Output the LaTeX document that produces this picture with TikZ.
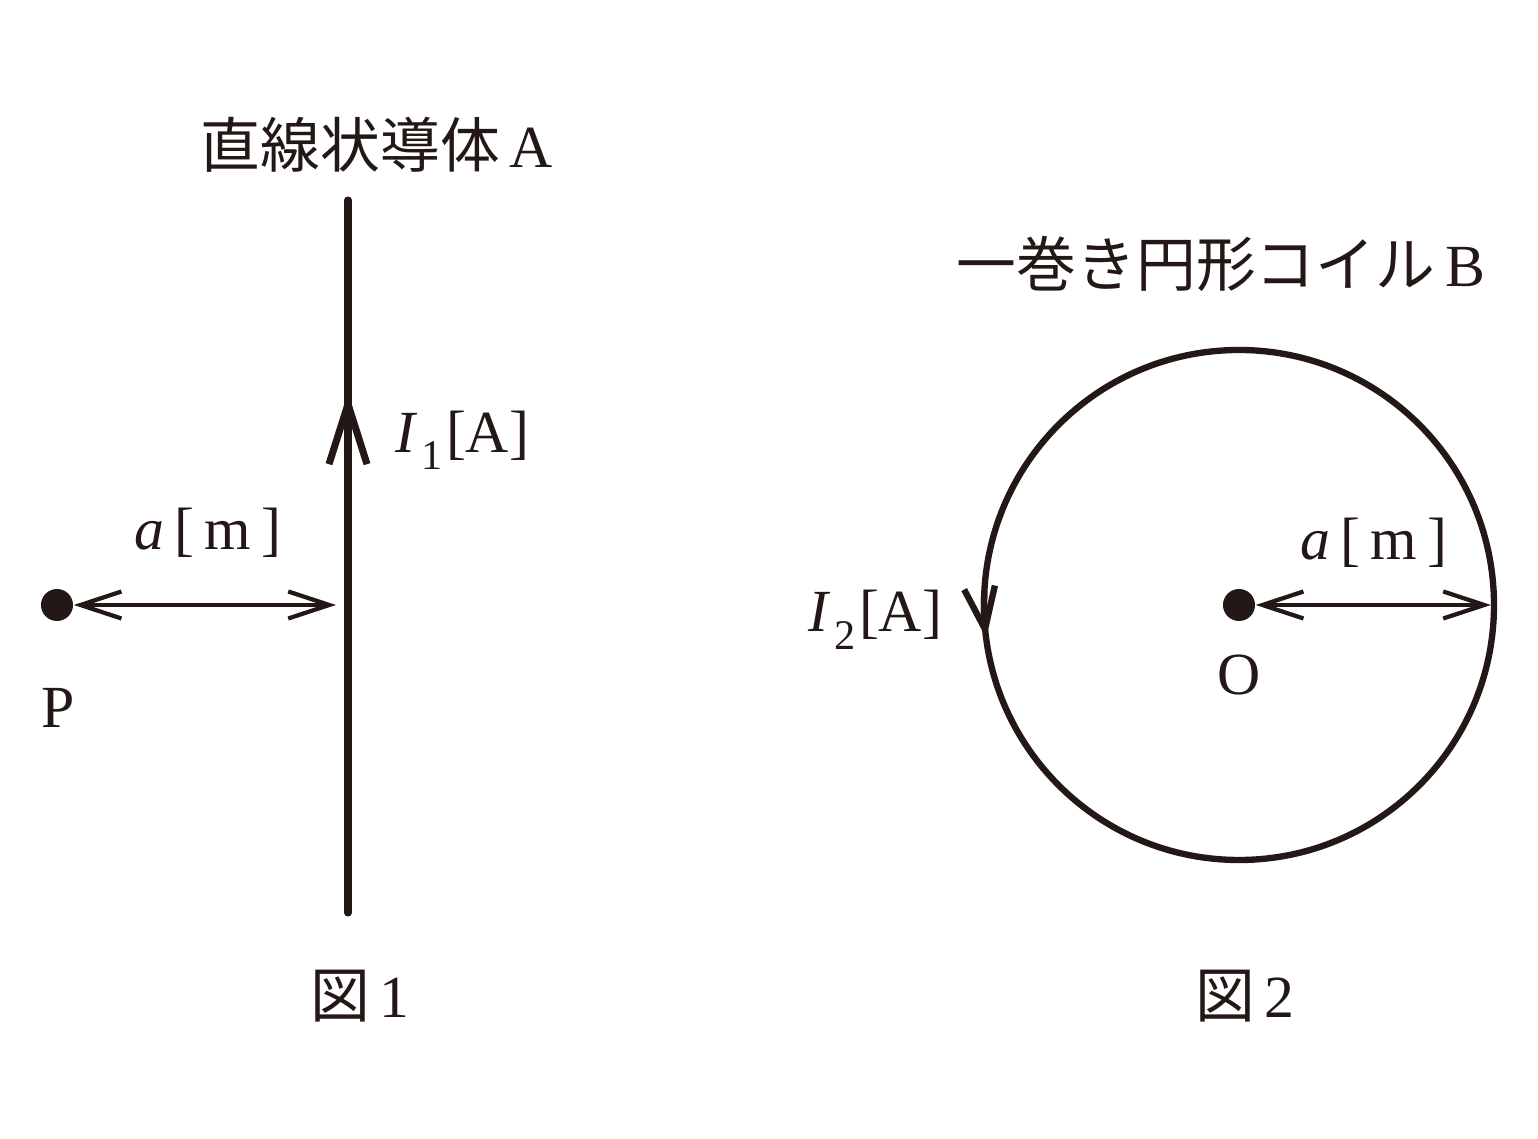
\documentclass[tikz,border=0pt]{standalone}
\usepackage{fontspec}
\setmainfont{Liberation Serif}
\newfontfamily\jpfont{Noto Sans CJK JP}
\usepackage{xcolor}
\usetikzlibrary{arrows.meta,positioning,calc,decorations.markings}
\definecolor{ink}{HTML}{231815}

\begin{document}
\begin{tikzpicture}[x=0.01cm,y=0.01cm, color=ink,
    wire/.style={line width=2pt, line cap=round},
    coil/.style={line width=1.8pt},
    gap/.style={line width=1.2pt, {Straight Barb[length=4.1mm,width=2.7mm]}-{Straight Barb[length=4.1mm,width=2.7mm]}},
    dotmark/.style={circle, fill=ink, inner sep=0pt, minimum size=3.2mm},
    lbl/.style={font=\fontsize{17}{20}\selectfont, inner sep=0pt}]
    \useasboundingbox (0,0) rectangle (1538,1139);

    % Fig. 1: straight conductor A
    \coordinate (Abot) at (348,226);
    \coordinate (Atop) at (348,939);
    \draw[wire, postaction={decorate}, decoration={markings,
        mark=at position 0.73 with {\arrow{Straight Barb[length=6mm,width=3.8mm]}}}]
        (Abot) -- (Atop);
    \node[lbl, anchor=base] (titleA) at (377,971) {{\jpfont 直線状導体}\,A};
    \node[lbl, anchor=base west] (I1) at (395,686)
        {\textit{I}\kern1pt\raisebox{-1.7mm}{\fontsize{12}{12}\selectfont 1}\kern1pt[A]};

    \node[dotmark] (P) at (57,534) {};
    \coordinate (wireP) at (336,534);
    \draw[gap] (P) -- (wireP);
    \node[lbl, anchor=base] (aP) at (208,589) {\textit{a}\,[\,m\,]};
    \node[lbl] (Plbl) at (58,431) {P};
    \node[lbl, anchor=base] (fig1) at (360,121) {{\jpfont 図}\,1};

    % Fig. 2: one-turn circular coil B
    \node[dotmark] (O) at (1239,534) {};
    \draw[coil] (O) circle[radius=255];
    \draw[coil, -{Straight Barb[length=4.2mm,width=3.1mm]}]
        (O) ++(177:255) arc[start angle=177, end angle=187.5, radius=255];
    \coordinate (rimO) at (1491,534);
    \draw[gap] (O) -- (rimO);
    \node[lbl, anchor=base] (aO) at (1374,579) {\textit{a}\,[\,m\,]};
    \node[lbl] (Olbl) at (1239,464) {O};
    \node[lbl, anchor=base west] (I2) at (808,507)
        {\textit{I}\kern1pt\raisebox{-1.7mm}{\fontsize{12}{12}\selectfont 2}\kern1pt[A]};
    \node[lbl, anchor=base] (titleB) at (1221,852) {{\jpfont 一巻き円形コイル}\,B};
    \node[lbl, anchor=base] (fig2) at (1245,121) {{\jpfont 図}\,2};
\end{tikzpicture}
\end{document}
